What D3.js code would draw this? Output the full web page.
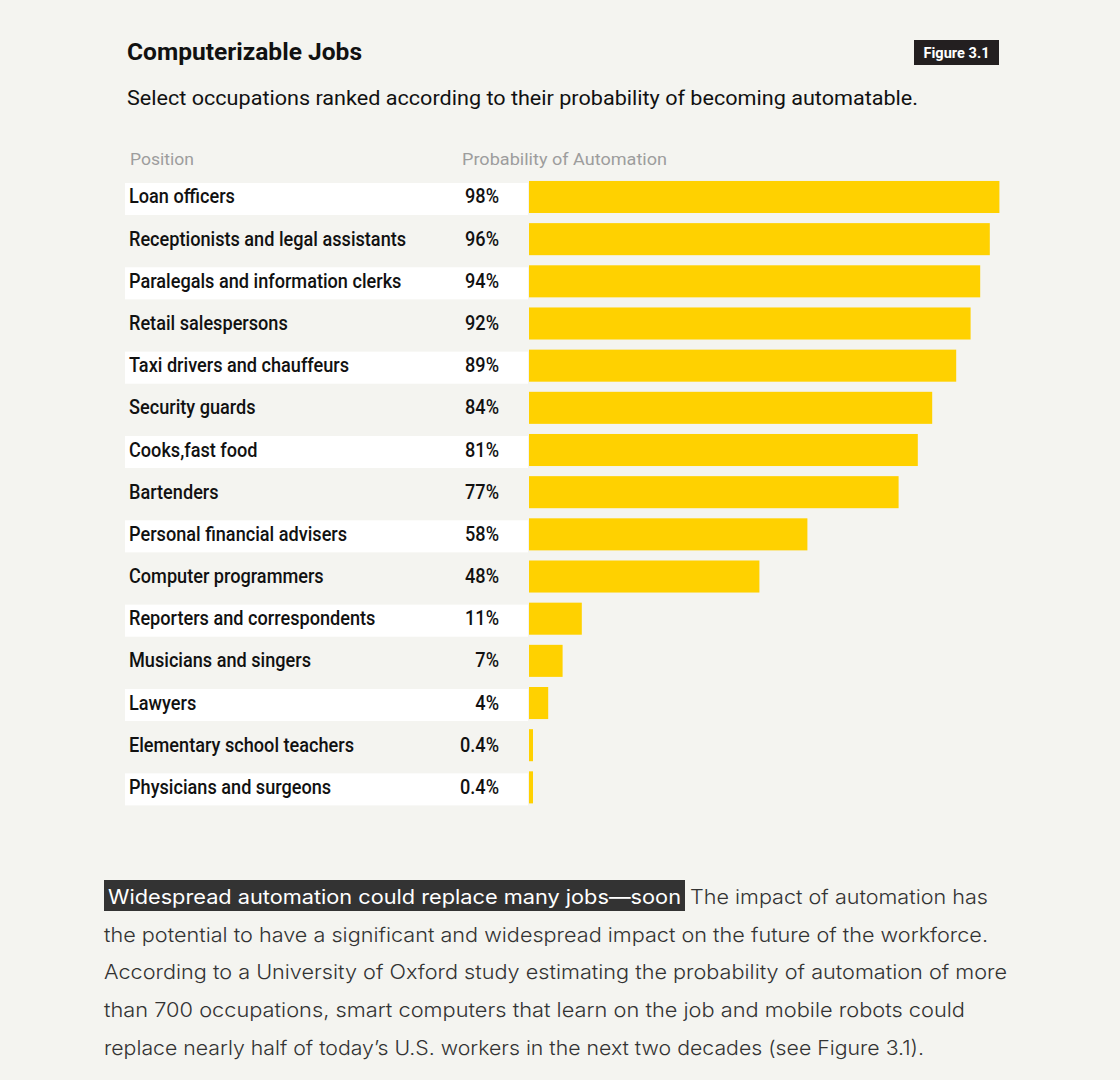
<!DOCTYPE html>
<html>
<head>
<meta charset="utf-8">
<script src="https://cdn.jsdelivr.net/npm/d3@7"></script>
<style>
  html, body { margin: 0; padding: 0; background: #f4f4f0; }
  svg { display: block; }
</style>
</head>
<body>
<svg id="chart" width="1120" height="1080"></svg>
<script>
const positions = [
  "Loan officers",
  "Receptionists and legal assistants",
  "Paralegals and information clerks",
  "Retail salespersons",
  "Taxi drivers and chauffeurs",
  "Security guards",
  "Cooks,fast food",
  "Bartenders",
  "Personal financial advisers",
  "Computer programmers",
  "Reporters and correspondents",
  "Musicians and singers",
  "Lawyers",
  "Elementary school teachers",
  "Physicians and surgeons"
];
const probabilities = [98, 96, 94, 92, 89, 84, 81, 77, 58, 48, 11, 7, 4, 0.4, 0.4];
const probabilityLabels = ["98%", "96%", "94%", "92%", "89%", "84%", "81%", "77%", "58%", "48%", "11%", "7%", "4%", "0.4%", "0.4%"];

const titleText = "Computerizable Jobs";
const subtitleText = "Select occupations ranked according to their probability of becoming automatable.";
const figureLabel = "Figure 3.1";
const headerPosition = "Position";
const headerProbability = "Probability of Automation";
const highlightText = "Widespread automation could replace many jobs\u2014soon";
const paragraphLines = [
  "The impact of automation has",
  "the potential to have a significant and widespread impact on the future of the workforce.",
  "According to a University of Oxford study estimating the probability of automation of more",
  "than 700 occupations, smart computers that learn on the job and mobile robots could",
  "replace nearly half of today\u2019s U.S. workers in the next two decades (see Figure 3.1)."
];

const data = positions.map((p, i) => ({ name: p, value: probabilities[i], label: probabilityLabels[i] }));

const svg = d3.select("#chart");
const BG = "#f4f4f0";
const BAR = "#ffd100";

svg.append("rect").attr("width", 1120).attr("height", 1080).attr("fill", BG);

const labelFont = "Roboto, 'Liberation Sans', sans-serif";

// Title
svg.append("text")
  .attr("x", 127).attr("y", 60)
  .attr("font-family", labelFont).attr("font-weight", 700)
  .attr("font-size", 23).attr("fill", "#111")
  .attr("textLength", 235).attr("lengthAdjust", "spacingAndGlyphs")
  .text(titleText);

// Subtitle
svg.append("text")
  .attr("x", 127).attr("y", 105)
  .attr("font-family", labelFont).attr("font-weight", 400)
  .attr("font-size", 20.5).attr("fill", "#111")
  .attr("textLength", 791).attr("lengthAdjust", "spacingAndGlyphs")
  .text(subtitleText);

// Figure badge
svg.append("rect").attr("x", 914).attr("y", 40).attr("width", 85).attr("height", 25).attr("fill", "#231f20");
svg.append("text")
  .attr("x", 956.5).attr("y", 57.5).attr("text-anchor", "middle")
  .attr("font-family", labelFont).attr("font-weight", 700)
  .attr("font-size", 14).attr("fill", "#fff")
  .attr("textLength", 66).attr("lengthAdjust", "spacingAndGlyphs")
  .text(figureLabel);

// Headers
svg.append("text")
  .attr("x", 130).attr("y", 165)
  .attr("font-family", labelFont).attr("font-size", 17).attr("fill", "#9d9d9d")
  .attr("textLength", 64).attr("lengthAdjust", "spacingAndGlyphs")
  .text(headerPosition);
svg.append("text")
  .attr("x", 462).attr("y", 165)
  .attr("font-family", labelFont).attr("font-size", 17).attr("fill", "#9d9d9d")
  .attr("textLength", 205).attr("lengthAdjust", "spacingAndGlyphs")
  .text(headerProbability);

// Scales
const x = d3.scaleLinear().domain([0, 100]).range([529, 1009]);
const y = d3.scaleBand()
  .domain(positions)
  .range([175.9, 175.9 + 42.17 * positions.length])
  .paddingInner(0.24)
  .paddingOuter(0.12);

const rows = svg.append("g").selectAll("g").data(data).join("g");

// alternating white bands
rows.filter((d, i) => i % 2 === 0)
  .append("rect")
  .attr("x", 125)
  .attr("y", d => y(d.name) + 2)
  .attr("width", 528 - 125)
  .attr("height", y.bandwidth())
  .attr("fill", "#ffffff");

// bars
rows.append("rect")
  .attr("x", x(0))
  .attr("y", d => y(d.name))
  .attr("width", d => Math.max(4, x(d.value) - x(0)))
  .attr("height", y.bandwidth())
  .attr("fill", BAR);

const SX = 0.885;
// names
rows.append("text")
  .attr("transform", d => `translate(129,${y(d.name) + y.bandwidth() / 2 + 6.5}) scale(${SX},1)`)
  .attr("font-family", labelFont).attr("font-weight", 500)
  .attr("font-size", 20.5)
  .attr("fill", "#111")
  .text(d => d.name);

// values
rows.append("text")
  .attr("transform", d => `translate(499,${y(d.name) + y.bandwidth() / 2 + 6.5}) scale(${SX},1)`)
  .attr("text-anchor", "end")
  .attr("font-family", labelFont).attr("font-weight", 500)
  .attr("font-size", 20.5)
  .attr("fill", "#111")
  .text(d => d.label);

// Paragraph
const paraFont = "Inter, 'Open Sans', sans-serif";
svg.append("rect").attr("x", 104).attr("y", 880).attr("width", 581).attr("height", 31).attr("fill", "#333333");
svg.append("text")
  .attr("x", 108).attr("y", 904)
  .attr("font-family", paraFont).attr("font-size", 20).attr("fill", "#ffffff")
  .attr("textLength", 573).attr("lengthAdjust", "spacingAndGlyphs")
  .text(highlightText);

const lineX = [690, 104, 104, 104, 104];
const lineW = [298, 884, 903, 861, 820];
svg.append("g").selectAll("text").data(paragraphLines).join("text")
  .attr("x", (d, i) => lineX[i])
  .attr("y", (d, i) => 904 + i * 37.7)
  .attr("font-family", paraFont).attr("font-weight", 300).attr("font-size", 20).attr("fill", "#333333")
  .attr("textLength", (d, i) => lineW[i]).attr("lengthAdjust", "spacingAndGlyphs")
  .text(d => d);
</script>
</body>
</html>
